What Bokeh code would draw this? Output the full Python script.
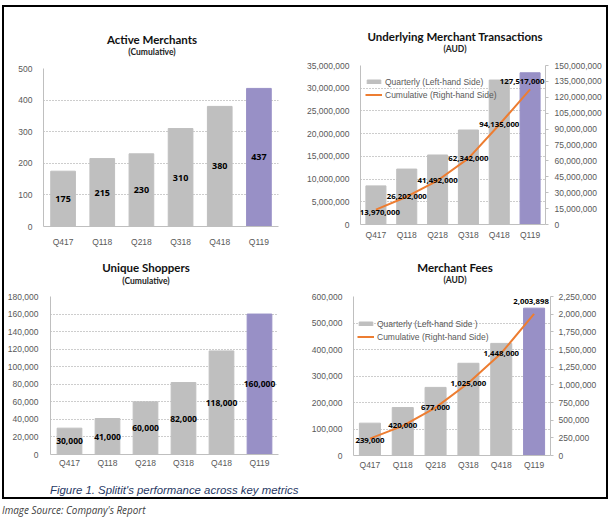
from bokeh.plotting import figure
from bokeh.models import (ColumnDataSource, FactorRange, Range1d, LinearAxis,
                          SingleIntervalTicker, NumeralTickFormatter,
                          Legend, LegendItem, Div, LabelSet, Label)
from bokeh.layouts import column, row
from bokeh.core.properties import value
from bokeh.embed import file_html
from bokeh.resources import INLINE

categories = ["Q417", "Q118", "Q218", "Q318", "Q418", "Q119"]
merchants = [175, 215, 230, 310, 380, 437]
shoppers = [30000, 41000, 60000, 82000, 118000, 160000]
umt_quarterly = [8500000, 12200000, 15300000, 20800000, 31800000, 33400000]
umt_cumulative = [13970000, 26202000, 41492000, 62342000, 94135000, 127517000]
fees_quarterly = [122000, 181000, 257000, 348000, 423000, 556000]
fees_cumulative = [239000, 420000, 677000, 1025000, 1448000, 2003898]

GRAY = "#BFBFBF"
PURPLE = "#9890C6"
ORANGE = "#ED7D31"
TICK = "#595959"
bar_colors = [GRAY] * 5 + [PURPLE]
TICK_FONT = "Liberation Sans"


def fmt(v):
    return f"{v:,}"


def title_div(title, sub, w, h, pad_top, pad_l, pad_r, sub_lh):
    html = (f'<div style="width:{w}px;box-sizing:border-box;'
            f'padding-top:{pad_top}px;padding-left:{pad_l}px;'
            f'padding-right:{pad_r}px;text-align:center;'
            f'font-family:Lato,sans-serif;font-weight:bold;">'
            f'<div style="font-size:11.5px;line-height:13px;color:#111111">'
            f'{title}</div>'
            f'<div style="font-size:8.5px;line-height:{sub_lh}px;'
            f'color:#222222">{sub}</div></div>')
    return Div(text=html, width=w, height=h, margin=0,
               styles={"width": f"{w}px"})


def base_fig(w, h, left, right, top, bottom, ymax, yint,
             x_standoff, y_standoff):
    p = figure(x_range=FactorRange(*categories, range_padding=0),
               y_range=Range1d(0, ymax), width=w, height=h,
               min_border_left=left, min_border_right=right,
               min_border_top=top, min_border_bottom=bottom,
               output_backend="svg", toolbar_location=None, title=None)
    p.outline_line_color = None
    p.background_fill_color = "white"
    p.border_fill_color = "white"
    p.xgrid.grid_line_color = None
    p.ygrid.grid_line_color = "#9A9A9A"
    p.ygrid.grid_line_dash = "1 2"
    p.ygrid.grid_line_width = 1
    p.yaxis.ticker = SingleIntervalTicker(interval=yint)
    p.yaxis.formatter = NumeralTickFormatter(format="0,0")
    for ax in (p.xaxis, p.yaxis):
        ax.major_label_text_font = TICK_FONT
        ax.major_label_text_font_size = "8.5px"
        ax.major_label_text_color = TICK
        ax.axis_line_color = "#BFBFBF"
        ax.major_tick_line_color = None
        ax.major_tick_out = 0
        ax.major_tick_in = 0
        ax.minor_tick_line_color = None
    p.xaxis.major_label_standoff = x_standoff
    p.yaxis.major_label_standoff = y_standoff
    return p


LABEL_STYLE = dict(text_font_style="bold", text_color="black",
                   text_align="center", text_baseline="middle")


def labels(src, x, y, size, y_range_name="default", x_offset=0, y_offset=0):
    return LabelSet(x=x, y=y, text="lab", source=src,
                    y_range_name=y_range_name,
                    x_offset=x_offset, y_offset=y_offset,
                    text_font=value("Open Sans"), text_font_size=size,
                    **LABEL_STYLE)


# ---------- Active Merchants ----------
p1 = base_fig(296, 189, 39, 22, 7, 24, 500, 100, 10, 7)
s1 = ColumnDataSource(dict(cat=categories, val=merchants, color=bar_colors,
                           mid=[v / 2 for v in merchants],
                           lab=[fmt(v) for v in merchants]))
p1.vbar(x="cat", top="val", width=0.63, color="color", source=s1)
p1.add_layout(labels(s1, "cat", "mid", "9px"))
t1 = title_div("Active Merchants", "(Cumulative)", 296, 54, 26, 0, 0, 12)

# ---------- Unique Shoppers ----------
p3 = base_fig(296, 185, 45, 22, 6, 21, 180000, 20000, 3, 8)
s3 = ColumnDataSource(dict(cat=categories, val=shoppers, color=bar_colors,
                           mid=[v / 2 for v in shoppers],
                           lab=[fmt(v) for v in shoppers]))
p3.vbar(x="cat", top="val", width=0.65, color="color", source=s3)
p3.add_layout(labels(s3, "cat", "mid", "8.5px"))
t3 = title_div("Unique Shoppers", "(Cumulative)", 296, 40, 11, 0, 12, 15)


def dual_fig(w, h, left, right, top, bottom, ymax, yint, rmax, rint,
             quarterly, cumulative, bw, q_label,
             leg_loc, first_off, last_off, x_standoff, r_standoff):
    p = base_fig(w, h, left, right, top, bottom, ymax, yint, x_standoff, 7)
    p.extra_y_ranges = {"cum": Range1d(0, rmax)}
    rax = LinearAxis(y_range_name="cum",
                     ticker=SingleIntervalTicker(interval=rint),
                     formatter=NumeralTickFormatter(format="0,0"))
    rax.major_label_text_font = TICK_FONT
    rax.major_label_text_font_size = "8.5px"
    rax.major_label_text_color = TICK
    rax.axis_line_color = "#BFBFBF"
    rax.major_tick_line_color = "#BFBFBF"
    rax.major_tick_out = 3
    rax.major_tick_in = 0
    rax.minor_tick_line_color = None
    rax.major_label_standoff = r_standoff
    p.add_layout(rax, "right")
    src = ColumnDataSource(dict(cat=categories, q=quarterly, c=cumulative,
                                color=bar_colors))
    p.vbar(x="cat", top="q", width=bw, color="color", source=src)
    ln = p.line(x="cat", y="c", line_color=ORANGE, line_width=2,
                y_range_name="cum", source=src)
    s_first = ColumnDataSource(dict(cat=categories[:1], c=cumulative[:1],
                                    lab=[fmt(v) for v in cumulative[:1]]))
    s_mid = ColumnDataSource(dict(cat=categories[1:-1], c=cumulative[1:-1],
                                  lab=[fmt(v) for v in cumulative[1:-1]]))
    p.add_layout(labels(s_first, "cat", "c", "7.8px", "cum",
                        first_off[0], first_off[1]))
    p.add_layout(labels(s_mid, "cat", "c", "7.8px", "cum"))
    # x is the centre of the last factor on the categorical scale
    last_x = len(categories) - 0.5
    p.add_layout(Label(x=last_x, y=cumulative[-1],
                       text=fmt(cumulative[-1]), y_range_name="cum",
                       x_offset=last_off[0], y_offset=last_off[1],
                       text_font="Open Sans", text_font_size="7.8px",
                       **LABEL_STYLE))
    leg_bar = p.vbar(x=[categories[0]], top=[0], width=bw, color=GRAY,
                     visible=False)
    legend = Legend(items=[LegendItem(label=q_label, renderers=[leg_bar]),
                           LegendItem(label="Cumulative (Right-hand Side)",
                                      renderers=[ln])],
                    location=leg_loc, background_fill_alpha=0,
                    border_line_color=None, padding=0, spacing=2,
                    margin=0, glyph_width=17, glyph_height=5,
                    label_height=11, label_standoff=3,
                    label_text_font=TICK_FONT,
                    label_text_font_size="8.5px", label_text_color=TICK)
    p.add_layout(legend, "center")
    return p


p2 = dual_fig(306, 189, 60, 61, 4, 26, 35000000, 5000000,
              150000000, 15000000,
              umt_quarterly, umt_cumulative, 0.65,
              "Quarterly (Left-hand Side)", (5, 124), (4, -3), (-8, 8), 5, 5)
t2 = title_div("Underlying Merchant Transactions", "(AUD)", 306, 54, 23,
               4, 0, 12)

p4 = dual_fig(306, 185, 53, 56, 6, 20, 600000, 100000,
              2250000, 250000,
              fees_quarterly, fees_cumulative, 0.64,
              "Quarterly (Left-hand Side )", (4, 113), (0, -2), (-3, 12), 4, 4)
t4 = title_div("Merchant Fees", "(AUD)", 306, 40, 11, 4, 0, 12)

caption = Div(text="Figure 1. Splitit's performance across key metrics",
              width=602, height=22, margin=0,
              styles={"font-family": "'Liberation Sans', Arial, sans-serif",
                      "font-style": "italic", "font-size": "11.4px",
                      "color": "#1F3864", "padding-left": "46px",
                      "padding-top": "9px", "box-sizing": "border-box",
                      "line-height": "13px"})

inner = column(row(column(t1, p1, spacing=0), column(t2, p2, spacing=0),
                   spacing=0),
               row(column(t3, p3, spacing=0), column(t4, p4, spacing=0),
                   spacing=0),
               caption, spacing=0)


def bar(w, h):
    return Div(text="", width=w, height=h, margin=0,
               styles={"background-color": "black"})


box = column(bar(606, 2),
             row(bar(2, 490), inner, bar(2, 490), spacing=0),
             bar(606, 2), spacing=0)

source = Div(text="Image Source: Company's Report", width=606, height=18,
             margin=0,
             styles={"font-family": "'Open Sans', sans-serif",
                     "font-style": "italic", "font-size": "9.9px",
                     "color": "#404040", "line-height": "22px"})

page = column(Div(text="", width=10, height=5, margin=0),
              row(Div(text="", width=2, height=10, margin=0),
                  column(box, source, spacing=0), spacing=0),
              spacing=0)

open("out.html", "w").write(file_html(page, INLINE))
